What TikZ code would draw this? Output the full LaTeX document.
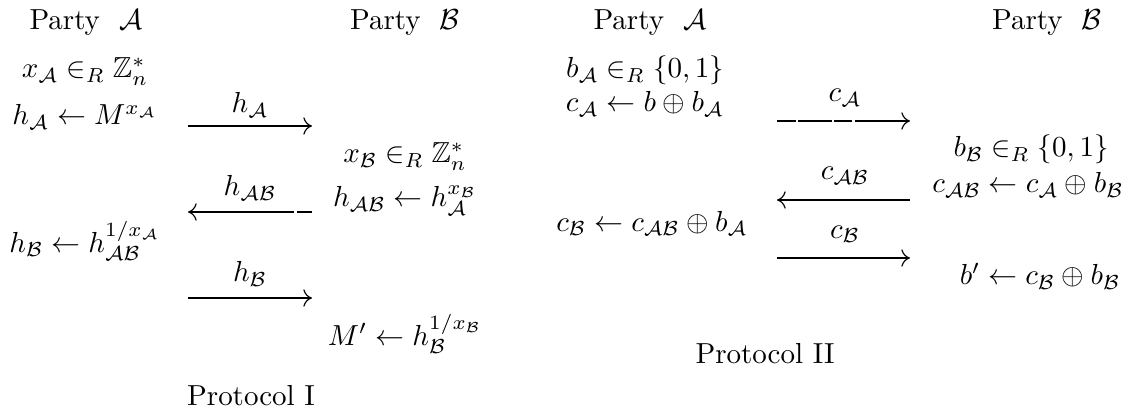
\documentclass[tikz,border=0pt]{standalone}
\usepackage{amsmath,amssymb}
\usetikzlibrary{arrows.meta}
\begin{document}
\begin{tikzpicture}[x=0.345pt,y=-0.345pt,
  txt/.style={anchor=base,inner sep=0pt,outer sep=0pt},
  msg/.style={-{Computer Modern Rightarrow[length=3pt,width=6pt]},line width=0.4pt}]
\useasboundingbox (0,0) rectangle (1135,410);
% Protocol I
\node[txt] (pa1) at (86,30) {Party~~$\mathcal{A}$};
\node[txt] (pb1) at (405,30) {Party~~$\mathcal{B}$};
\node[txt] (a1) at (85,78) {$x_{\mathcal{A}}\in_R\mathbb{Z}_n^*$};
\node[txt] (a2) at (85,125) {$h_{\mathcal{A}}\leftarrow M^{x_{\mathcal{A}}}$};
\node[txt] (b1) at (405,163) {$x_{\mathcal{B}}\in_R\mathbb{Z}_n^*$};
\node[txt] (b2) at (405,207) {$h_{\mathcal{AB}}\leftarrow h_{\mathcal{A}}^{x_{\mathcal{B}}}$};
\node[txt] (a3) at (85,252) {$h_{\mathcal{B}}\leftarrow h_{\mathcal{AB}}^{1/x_{\mathcal{A}}}$};
\node[txt] (b3) at (405,345) {$M'\leftarrow h_{\mathcal{B}}^{1/x_{\mathcal{B}}}$};
\node[txt] (p1) at (251,405) {Protocol I};
\coordinate (m1l) at (188,126); \coordinate (m1r) at (312,126);
\coordinate (m2l) at (188,212); \coordinate (m2r) at (312,212);
\coordinate (m3l) at (188,298); \coordinate (m3r) at (312,298);
\draw[msg] (m1l) -- (m1r);
\draw[msg,dash pattern=on 5.2pt off 1pt on 60pt] (m2r) -- (m2l);
\draw[msg] (m3l) -- (m3r);
\node[txt] (l1) at (250,113) {$h_{\mathcal{A}}$};
\node[txt] (l2) at (250,196) {$h_{\mathcal{AB}}$};
\node[txt] (l3) at (250,282) {$h_{\mathcal{B}}$};
% Protocol II
\node[txt] (pa2) at (650,30) {Party~~$\mathcal{A}$};
\node[txt] (pb2) at (1047,30) {Party~~$\mathcal{B}$};
\node[txt] (c1) at (645,78) {$b_{\mathcal{A}}\in_R\{0,1\}$};
\node[txt] (c2) at (645,112) {$c_{\mathcal{A}}\leftarrow b\oplus b_{\mathcal{A}}$};
\node[txt] (d1) at (1031,157) {$b_{\mathcal{B}}\in_R\{0,1\}$};
\node[txt] (d2) at (1028,193) {$c_{\mathcal{AB}}\leftarrow c_{\mathcal{A}}\oplus b_{\mathcal{B}}$};
\node[txt] (c3) at (652,231) {$c_{\mathcal{B}}\leftarrow c_{\mathcal{AB}}\oplus b_{\mathcal{A}}$};
\node[txt] (d3) at (1040,285) {$b'\leftarrow c_{\mathcal{B}}\oplus b_{\mathcal{B}}$};
\node[txt] (p2) at (765,363) {Protocol II};
\coordinate (n1l) at (777,121); \coordinate (n1r) at (910,121);
\coordinate (n2l) at (777,200); \coordinate (n2r) at (910,200);
\coordinate (n3l) at (777,258); \coordinate (n3r) at (910,258);
\draw[msg,dash pattern=on 6.4pt off 0.9pt on 11.5pt off 1pt on 6.2pt off 1pt on 30pt] (n1l) -- (n1r);
\draw[msg] (n2r) -- (n2l);
\draw[msg] (n3l) -- (n3r);
\node[txt] (k1) at (845,102) {$c_{\mathcal{A}}$};
\node[txt] (k2) at (845,180) {$c_{\mathcal{AB}}$};
\node[txt] (k3) at (845,238) {$c_{\mathcal{B}}$};
\end{tikzpicture}
\end{document}
